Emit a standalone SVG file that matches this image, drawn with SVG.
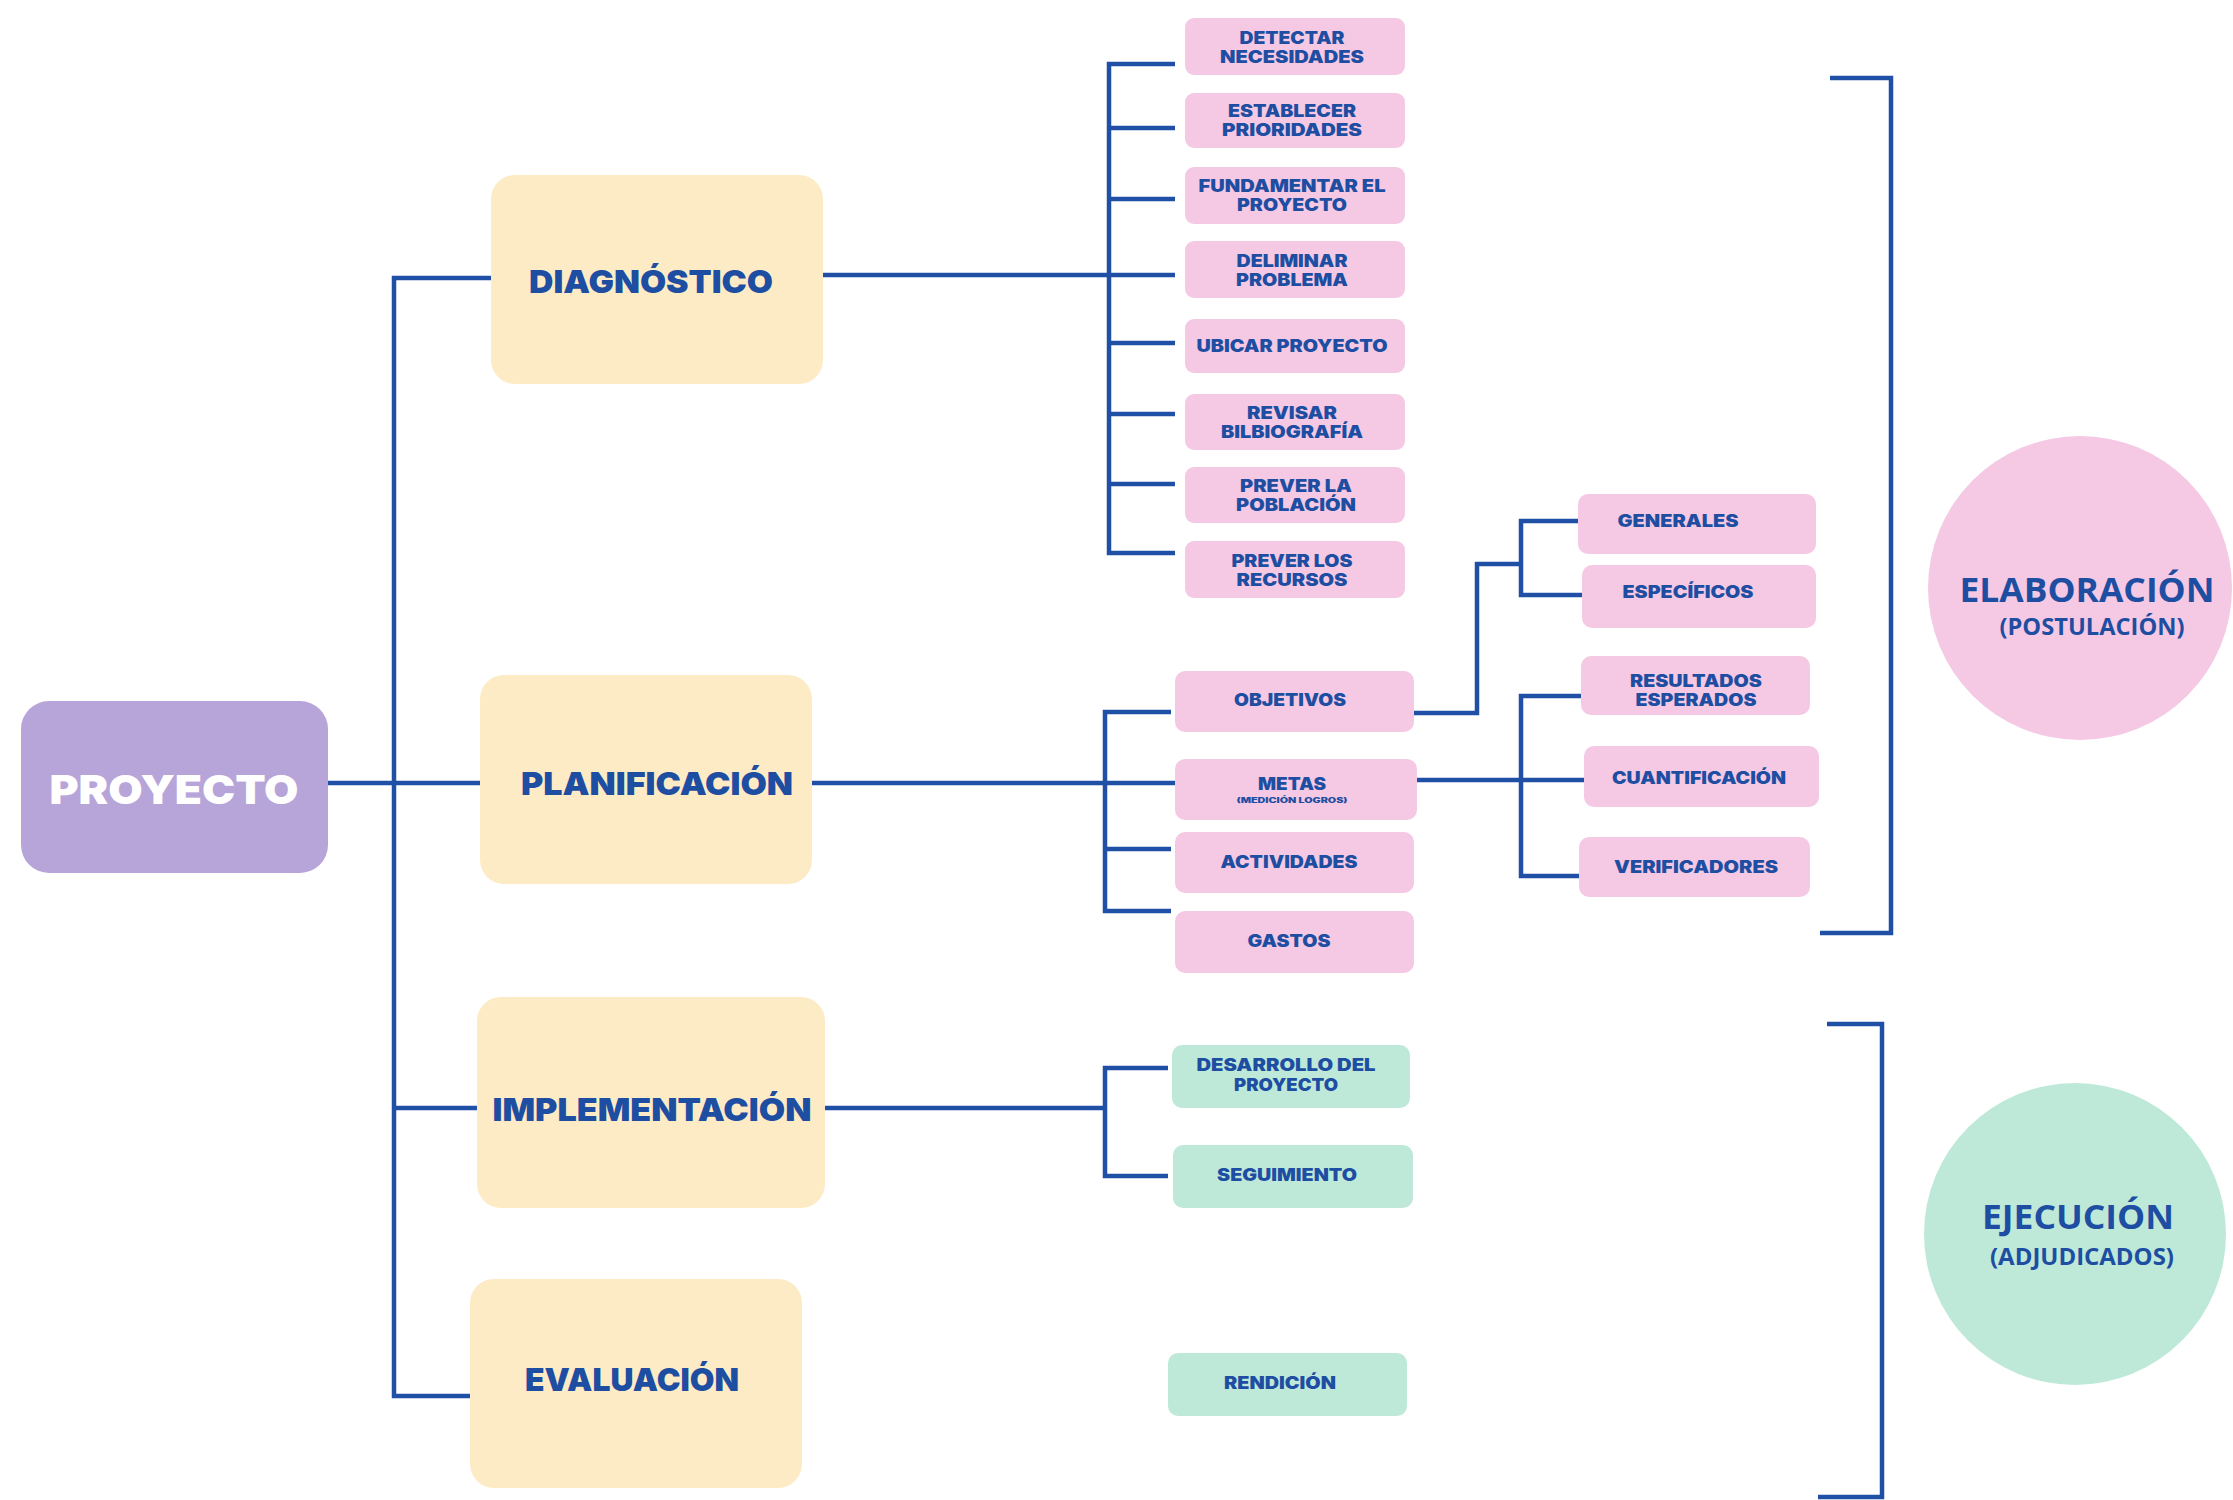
<svg xmlns="http://www.w3.org/2000/svg" width="2233" height="1500" viewBox="0 0 2233 1500">
<style>
.bg{fill:#ffffff}
.pink{fill:#F5C9E4}
.mint{fill:#BEE9D9}
.beige{fill:#FDEBC6}
.purple{fill:#B7A4D9}
.st{font-family:Inter,"Liberation Sans",sans-serif;font-weight:900;fill:#1E4EA2;text-anchor:middle}
.s{font-size:17px}
.big{font-size:32px}
.tiny{font-size:7px}
.pr{font-family:Inter,"Liberation Sans",sans-serif;font-weight:900;fill:#ffffff;text-anchor:middle;font-size:40px}
.ci{font-family:"Open Sans","Liberation Sans",sans-serif;font-weight:700;fill:#1E4EA2;text-anchor:middle}
.c1{font-size:34px}
.c2{font-size:23px}
.ln{fill:none;stroke:#1F50A6;stroke-width:4.5;stroke-linejoin:miter}
</style>
<rect class="bg" x="0" y="0" width="2233" height="1500"/>

<g id="connectors">
<path class="ln" d="M328 783 H480"/>
<path class="ln" d="M491 278 H394 V1396 H470"/>
<path class="ln" d="M394 1108 H477"/>
<path class="ln" d="M823 275 H1175"/>
<path class="ln" d="M1175 64 H1109 V553 H1175"/>
<path class="ln" d="M1109 128 H1175 M1109 199 H1175 M1109 343 H1175 M1109 414 H1175 M1109 484 H1175"/>
<path class="ln" d="M812 783 H1175"/>
<path class="ln" d="M1171 712 H1105 V911 H1171 M1105 849 H1171"/>
<path class="ln" d="M1414 713 H1477 V564 H1521"/>
<path class="ln" d="M1578 521 H1521 V595 H1582"/>
<path class="ln" d="M1417 780 H1584"/>
<path class="ln" d="M1581 696 H1521 V876 H1579"/>
<path class="ln" d="M825 1108 H1105"/>
<path class="ln" d="M1168 1068 H1105 V1176 H1168"/>
<path class="ln" d="M1830 78 H1891 V933 H1820"/>
<path class="ln" d="M1827 1024 H1882 V1497 H1818"/>
</g>

<g id="proyecto"><rect class="purple" x="21" y="701" width="307" height="172" rx="28"/><text class="pr" x="174" y="804" textLength="249" lengthAdjust="spacingAndGlyphs">PROYECTO</text></g>

<g id="diagnostico"><rect class="beige" x="491" y="175" width="332" height="209" rx="24"/><text class="st big" x="651" y="293" textLength="244" lengthAdjust="spacingAndGlyphs">DIAGNÓSTICO</text></g>
<g id="planificacion"><rect class="beige" x="480" y="675" width="332" height="209" rx="24"/><text class="st big" x="657" y="795" textLength="272" lengthAdjust="spacingAndGlyphs">PLANIFICACIÓN</text></g>
<g id="implementacion"><rect class="beige" x="477" y="997" width="348" height="211" rx="24"/><text class="st big" x="652" y="1121" textLength="319" lengthAdjust="spacingAndGlyphs">IMPLEMENTACIÓN</text></g>
<g id="evaluacion"><rect class="beige" x="470" y="1279" width="332" height="209" rx="24"/><text class="st big" x="632" y="1391" textLength="214" lengthAdjust="spacingAndGlyphs">EVALUACIÓN</text></g>

<g id="detectar"><rect class="pink" x="1185" y="18" width="220" height="57" rx="9"/><text class="st s" x="1292" y="44" textLength="105" lengthAdjust="spacingAndGlyphs">DETECTAR</text><text class="st s" x="1292" y="63" textLength="144" lengthAdjust="spacingAndGlyphs">NECESIDADES</text></g>
<g id="establecer"><rect class="pink" x="1185" y="93" width="220" height="55" rx="9"/><text class="st s" x="1292" y="117" textLength="128" lengthAdjust="spacingAndGlyphs">ESTABLECER</text><text class="st s" x="1292" y="136" textLength="140" lengthAdjust="spacingAndGlyphs">PRIORIDADES</text></g>
<g id="fundamentar"><rect class="pink" x="1185" y="167" width="220" height="57" rx="9"/><text class="st s" x="1292" y="192" textLength="187" lengthAdjust="spacingAndGlyphs">FUNDAMENTAR EL</text><text class="st s" x="1292" y="211" textLength="110" lengthAdjust="spacingAndGlyphs">PROYECTO</text></g>
<g id="deliminar"><rect class="pink" x="1185" y="241" width="220" height="57" rx="9"/><text class="st s" x="1292" y="267" textLength="111" lengthAdjust="spacingAndGlyphs">DELIMINAR</text><text class="st s" x="1292" y="286" textLength="112" lengthAdjust="spacingAndGlyphs">PROBLEMA</text></g>
<g id="ubicar"><rect class="pink" x="1185" y="319" width="220" height="54" rx="9"/><text class="st s" x="1292" y="352" textLength="191" lengthAdjust="spacingAndGlyphs">UBICAR PROYECTO</text></g>
<g id="revisar"><rect class="pink" x="1185" y="394" width="220" height="56" rx="9"/><text class="st s" x="1292" y="419" textLength="90" lengthAdjust="spacingAndGlyphs">REVISAR</text><text class="st s" x="1292" y="438" textLength="142" lengthAdjust="spacingAndGlyphs">BILBIOGRAFÍA</text></g>
<g id="poblacion"><rect class="pink" x="1185" y="467" width="220" height="56" rx="9"/><text class="st s" x="1296" y="492" textLength="112" lengthAdjust="spacingAndGlyphs">PREVER LA</text><text class="st s" x="1296" y="511" textLength="120" lengthAdjust="spacingAndGlyphs">POBLACIÓN</text></g>
<g id="recursos"><rect class="pink" x="1185" y="541" width="220" height="57" rx="9"/><text class="st s" x="1292" y="567" textLength="121" lengthAdjust="spacingAndGlyphs">PREVER LOS</text><text class="st s" x="1292" y="586" textLength="111" lengthAdjust="spacingAndGlyphs">RECURSOS</text></g>

<g id="objetivos"><rect class="pink" x="1175" y="671" width="239" height="61" rx="10"/><text class="st s" x="1290" y="706" textLength="112" lengthAdjust="spacingAndGlyphs">OBJETIVOS</text></g>
<g id="metas"><rect class="pink" x="1175" y="759" width="242" height="61" rx="10"/><text class="st s" x="1292" y="790" textLength="68" lengthAdjust="spacingAndGlyphs">METAS</text><text class="st tiny" x="1292" y="803" textLength="111" lengthAdjust="spacingAndGlyphs">(MEDICIÓN LOGROS)</text></g>
<g id="actividades"><rect class="pink" x="1175" y="832" width="239" height="61" rx="10"/><text class="st s" x="1289" y="868" textLength="137" lengthAdjust="spacingAndGlyphs">ACTIVIDADES</text></g>
<g id="gastos"><rect class="pink" x="1175" y="911" width="239" height="62" rx="10"/><text class="st s" x="1289" y="947" textLength="83" lengthAdjust="spacingAndGlyphs">GASTOS</text></g>

<g id="generales"><rect class="pink" x="1578" y="494" width="238" height="60" rx="10"/><text class="st s" x="1678" y="527" textLength="121" lengthAdjust="spacingAndGlyphs">GENERALES</text></g>
<g id="especificos"><rect class="pink" x="1582" y="565" width="234" height="63" rx="10"/><text class="st s" x="1688" y="598" textLength="131" lengthAdjust="spacingAndGlyphs">ESPECÍFICOS</text></g>
<g id="resultados"><rect class="pink" x="1581" y="656" width="229" height="59" rx="10"/><text class="st s" x="1696" y="687" textLength="132" lengthAdjust="spacingAndGlyphs">RESULTADOS</text><text class="st s" x="1696" y="706" textLength="121" lengthAdjust="spacingAndGlyphs">ESPERADOS</text></g>
<g id="cuantificacion"><rect class="pink" x="1584" y="746" width="235" height="61" rx="10"/><text class="st s" x="1699" y="784" textLength="174" lengthAdjust="spacingAndGlyphs">CUANTIFICACIÓN</text></g>
<g id="verificadores"><rect class="pink" x="1579" y="837" width="231" height="60" rx="10"/><text class="st s" x="1696" y="873" textLength="164" lengthAdjust="spacingAndGlyphs">VERIFICADORES</text></g>

<g id="desarrollo"><rect class="mint" x="1172" y="1045" width="238" height="63" rx="10"/><text class="st s" x="1286" y="1071" textLength="179" lengthAdjust="spacingAndGlyphs">DESARROLLO DEL</text><text class="st s" x="1286" y="1091" textLength="104" lengthAdjust="spacingAndGlyphs">PROYECTO</text></g>
<g id="seguimiento"><rect class="mint" x="1173" y="1145" width="240" height="63" rx="10"/><text class="st s" x="1287" y="1181" textLength="140" lengthAdjust="spacingAndGlyphs">SEGUIMIENTO</text></g>
<g id="rendicion"><rect class="mint" x="1168" y="1353" width="239" height="63" rx="10"/><text class="st s" x="1280" y="1389" textLength="112" lengthAdjust="spacingAndGlyphs">RENDICIÓN</text></g>

<g id="elaboracion"><circle class="pink" cx="2080" cy="588" r="152"/><text class="ci c1" x="2087" y="602" textLength="255" lengthAdjust="spacingAndGlyphs">ELABORACIÓN</text><text class="ci c2" x="2092" y="635" textLength="185" lengthAdjust="spacingAndGlyphs">(POSTULACIÓN)</text></g>
<g id="ejecucion"><circle class="mint" cx="2075" cy="1234" r="151"/><text class="ci c1" x="2078" y="1229" textLength="192" lengthAdjust="spacingAndGlyphs">EJECUCIÓN</text><text class="ci c2" x="2082" y="1265" textLength="184" lengthAdjust="spacingAndGlyphs">(ADJUDICADOS)</text></g>
</svg>
